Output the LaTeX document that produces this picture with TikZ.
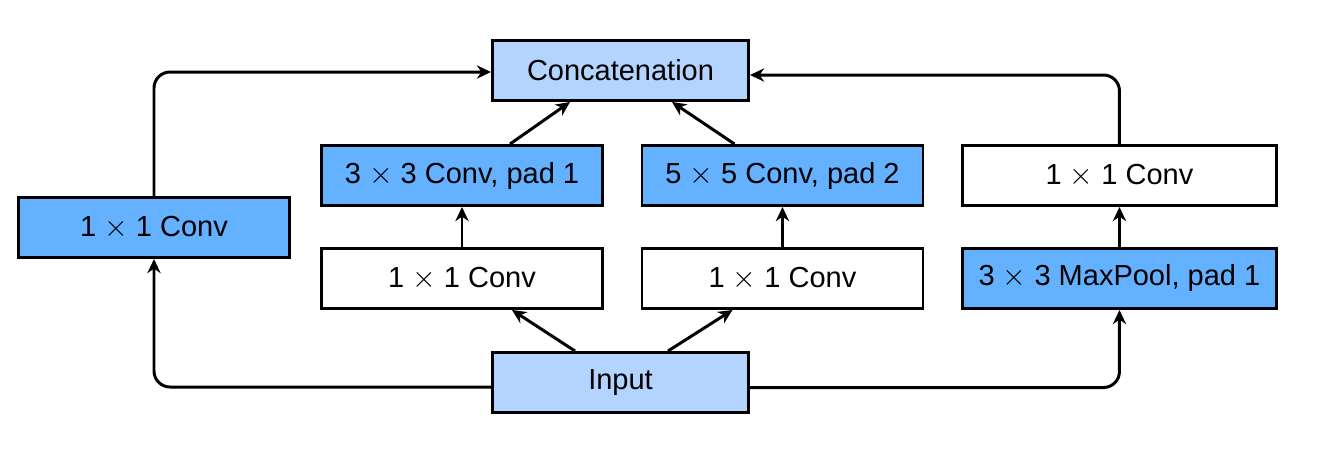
\documentclass[tikz,border=0pt]{standalone}
\usepackage{fontspec}
\setmainfont{Liberation Sans}
\usetikzlibrary{arrows.meta,positioning,calc}
\definecolor{ConvBlue}{RGB}{99,177,255}
\definecolor{IOBlue}{RGB}{179,212,255}

\begin{document}
\begin{tikzpicture}[node distance=0.80cm and 0.73cm,
  box/.style={draw,line width=1.7pt,minimum height=1.2cm,inner sep=0pt,
              font=\fontsize{16.5}{20}\selectfont},
  iobox/.style={box,fill=IOBlue,minimum width=5.12cm},
  convbox/.style={box,fill=ConvBlue},
  plainbox/.style={box,fill=white},
  flow/.style={-{Stealth[length=8pt,width=7.5pt,inset=2.5pt]},line width=1.7pt}]
\useasboundingbox (0,0) rectangle (26.38,-9.02);
\node[iobox] (concat) at (12.41,-1.41) {Concatenation};
\node[iobox] (input) at (12.41,-7.65) {Input};
\node[convbox,minimum width=5.42cm] (left) at (3.08,-4.55) {1 $\times$ 1 Conv};
\node[convbox,minimum width=5.62cm] (conv3) at (9.24,-3.51) {3 $\times$ 3 Conv, pad 1};
\node[convbox,minimum width=5.62cm,right=of conv3] (conv5) {5 $\times$ 5 Conv, pad 2};
\node[plainbox,minimum width=6.28cm,right=of conv5] (proj) {1 $\times$ 1 Conv};
\node[plainbox,minimum width=5.62cm,below=of conv3] (red3) {1 $\times$ 1 Conv};
\node[plainbox,minimum width=5.62cm,below=of conv5] (red5) {1 $\times$ 1 Conv};
\node[convbox,minimum width=6.28cm,below=of proj] (pool) {3 $\times$ 3 MaxPool, pad 1};

% inner branches
\draw[flow] ([xshift=-0.91cm]input.north) -- ([xshift=1cm]red3.south);
\draw[flow] ([xshift=0.95cm]input.north) -- ([xshift=-1cm]red5.south);
\draw[flow] (red3) -- (conv3);
\draw[flow] (red5) -- (conv5);
\draw[flow] ([xshift=0.96cm]conv3.north) -- ([xshift=-1.01cm]concat.south);
\draw[flow] ([xshift=-0.96cm]conv5.north) -- ([xshift=1.03cm]concat.south);
% outer branches
\draw[flow,rounded corners=0.32cm] ([yshift=-0.09cm]input.west) -| (left.south);
\draw[flow,rounded corners=0.32cm] (left.north) |- ([yshift=-0.03cm]concat.west);
\draw[flow,rounded corners=0.32cm] ([yshift=-0.1cm]input.east) -| (pool.south);
\draw[flow] (pool) -- (proj);
\draw[flow,rounded corners=0.32cm] (proj.north) |- ([yshift=-0.09cm]concat.east);
\end{tikzpicture}
\end{document}
